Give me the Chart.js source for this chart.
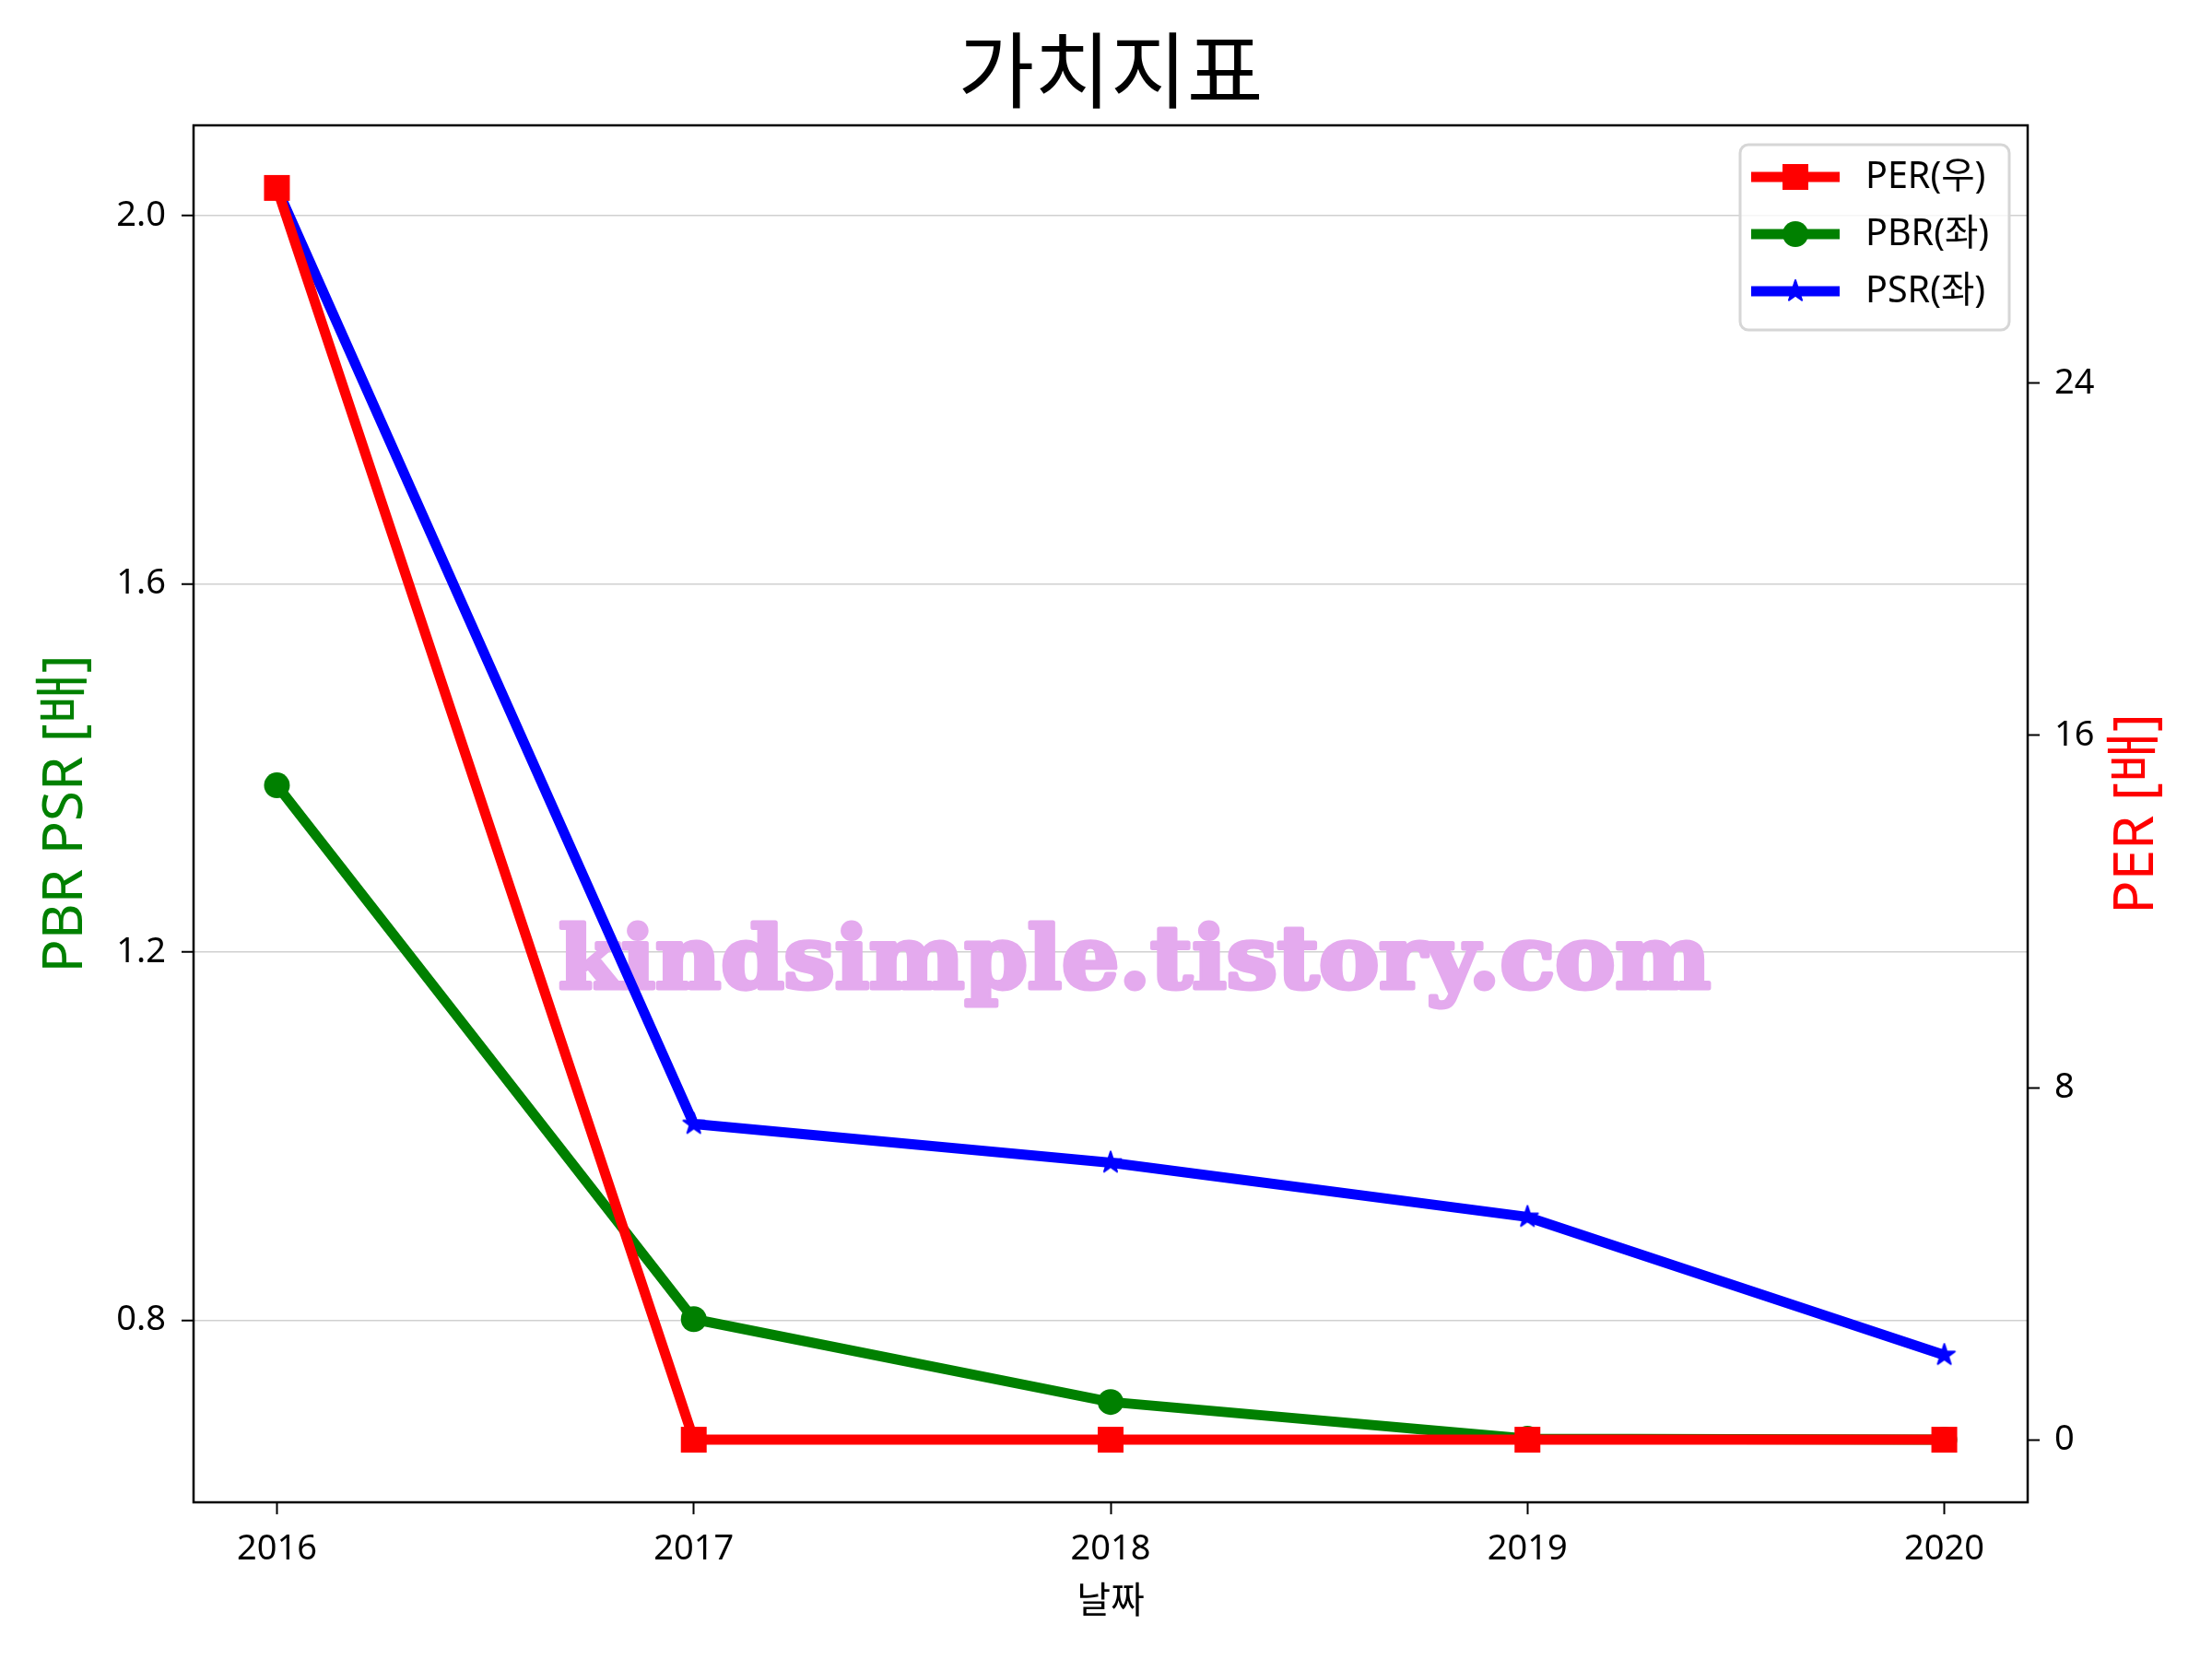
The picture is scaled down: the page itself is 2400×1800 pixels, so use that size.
<!DOCTYPE html>
<html><head><meta charset="utf-8">
<script src="https://cdn.jsdelivr.net/npm/chart.js@4.4.1/dist/chart.umd.min.js"></script>
<style>html,body{margin:0;padding:0;background:#fff;} canvas{display:block;}</style>
</head><body>
<canvas id="c" width="2400" height="1800" style="width:2400px;height:1800px"></canvas>
<script>
const years = [2016, 2017, 2018, 2019, 2020];
const perValues = [28.44, 0, 0, 0, 0];
const pbrValues = [1.381, 0.801, 0.711, 0.671, 0.670];
const psrValues = [2.030, 1.013, 0.971, 0.912, 0.762];
const leftTicks = [0.8, 1.2, 1.6, 2.0];
const rightTicks = [0, 8, 16, 24];
const seriesLabels = ['PER(우)', 'PBR(좌)', 'PSR(좌)'];
const titleText = '가치지표';
const xTitle = '날짜';
const leftTitle = 'PBR PSR [배]';
const rightTitle = 'PER [배]';
const watermark = 'kindsimple.tistory.com';

const FAMILY = "'Noto Sans', 'Noto Sans CJK KR', sans-serif";
Chart.defaults.font.family = FAMILY;
Chart.defaults.color = '#000';

function padRange(arrs){
  const all = [].concat(...arrs);
  const mn = Math.min(...all), mx = Math.max(...all);
  const m = (mx - mn) * 0.05;
  return [mn - m, mx + m];
}
const [lMin, lMax] = padRange([pbrValues, psrValues]);
const [rMin, rMax] = padRange([perValues]);
const [xMin, xMax] = padRange([years]);

function starPath(g, cx, cy, r){
  g.beginPath();
  for (let i = 0; i < 10; i++){
    const a = -Math.PI/2 + i*Math.PI/5;
    const rr = (i % 2) ? r*0.381 : r;
    const px = cx + rr*Math.cos(a), py = cy + rr*Math.sin(a);
    if (i === 0) g.moveTo(px, py); else g.lineTo(px, py);
  }
  g.closePath();
}
function makeStar(r, color){
  const s = Math.ceil(r*2 + 6);
  const c = document.createElement('canvas');
  c.width = s; c.height = s;
  const g = c.getContext('2d');
  starPath(g, s/2, s/2, r);
  g.fillStyle = color; g.fill();
  g.lineWidth = 2; g.strokeStyle = color; g.lineJoin = 'round'; g.stroke();
  return c;
}
const STAR_R = 12;
const starImg = makeStar(STAR_R, '#0000ff');

const colors = ['#ff0000', '#008000', '#0000ff'];
const pts = arr => years.map((x, i) => ({x: x, y: arr[i]}));

function drawMarker(g, kind, x, y, color){
  g.fillStyle = color;
  if (kind === 'rect'){ g.fillRect(x-14, y-14, 28, 28); }
  else if (kind === 'circle'){ g.beginPath(); g.arc(x, y, 14, 0, Math.PI*2); g.fill(); }
  else { g.drawImage(starImg, x - starImg.width/2, y - starImg.height/2); }
}

const decor = {
  id: 'decor',
  beforeDatasetsDraw(chart){
    const g = chart.ctx;
    g.save();
    g.font = "bold 94px 'DejaVu Serif'";
    const w = g.measureText(watermark).width;
    const target = 1250;
    g.translate(1231, 1072);
    g.scale(target / w, 1);
    g.fillStyle = '#e4aaee';
    g.strokeStyle = '#e4aaee';
    g.lineWidth = 5; g.lineJoin = 'round';
    g.textAlign = 'center';
    g.textBaseline = 'alphabetic';
    g.strokeText(watermark, 0, 0);
    g.fillText(watermark, 0, 0);
    g.restore();
  },
  afterDraw(chart){
    const g = chart.ctx, a = chart.chartArea;
    g.save();
    g.strokeStyle = '#000'; g.lineWidth = 2.5;
    g.strokeRect(a.left, a.top, a.right - a.left, a.bottom - a.top);
    const cx = (a.left + a.right) / 2, cy = (a.top + a.bottom) / 2;
    g.fillStyle = '#000';
    g.textAlign = 'center'; g.textBaseline = 'middle';
    g.font = "90px " + FAMILY;
    g.fillText(titleText, cx, 84);
    g.font = "40px " + FAMILY;
    g.fillText(xTitle, cx, 1739);
    g.save();
    g.translate(72, cy); g.rotate(-Math.PI/2);
    g.fillStyle = '#008000'; g.font = "60px " + FAMILY;
    g.fillText(leftTitle, 0, 0);
    g.restore();
    g.save();
    g.translate(2319, cy); g.rotate(-Math.PI/2);
    g.fillStyle = '#ff0000'; g.font = "60px " + FAMILY;
    g.fillText(rightTitle, 0, 0);
    g.restore();
    const lx = 1888, ly = 157, lw = 292, lh = 201, rad = 9;
    g.beginPath();
    g.roundRect(lx, ly, lw, lh, rad);
    g.fillStyle = 'rgba(255,255,255,0.8)'; g.fill();
    g.strokeStyle = '#d6d6d6'; g.lineWidth = 3; g.stroke();
    const kinds = ['rect', 'circle', 'star'];
    const rows = [192, 254, 316];
    for (let i = 0; i < 3; i++){
      const y = rows[i];
      g.strokeStyle = colors[i]; g.lineWidth = 11; g.lineCap = 'butt';
      g.beginPath(); g.moveTo(1900, y); g.lineTo(1996, y); g.stroke();
      drawMarker(g, kinds[i], 1948, y, colors[i]);
      g.fillStyle = '#000'; g.textAlign = 'left'; g.textBaseline = 'middle';
      g.font = "39.5px " + FAMILY;
      g.fillText(seriesLabels[i], 2024, y + 1);
    }
    g.restore();
  }
};

const common = {borderWidth: 11, fill: false, tension: 0, borderJoinStyle: 'round', borderCapStyle: 'butt', pointBorderWidth: 0, pointHoverRadius: 0};

new Chart(document.getElementById('c').getContext('2d'), {
  type: 'line',
  data: {datasets: [
    Object.assign({}, common, {label: seriesLabels[0], data: pts(perValues), yAxisID: 'yR', borderColor: colors[0], backgroundColor: colors[0], pointStyle: 'rect', pointRadius: 19.8}),
    Object.assign({}, common, {label: seriesLabels[1], data: pts(pbrValues), yAxisID: 'yL', borderColor: colors[1], backgroundColor: colors[1], pointStyle: 'circle', pointRadius: 14}),
    Object.assign({}, common, {label: seriesLabels[2], data: pts(psrValues), yAxisID: 'yL', borderColor: colors[2], backgroundColor: colors[2], pointStyle: starImg, pointRadius: STAR_R})
  ]},
  options: {
    responsive: false, animation: false, devicePixelRatio: 1,
    layout: {padding: {top: 136, left: 0, right: 0, bottom: 0}},
    plugins: {legend: {display: false}, tooltip: {enabled: false}, title: {display: false}},
    events: [],
    scales: {
      x: {
        type: 'linear', position: 'bottom', min: xMin, max: xMax,
        afterBuildTicks: s => { s.ticks = years.map(v => ({value: v})); },
        afterFit: s => { s.height = 170; s.paddingLeft = 0; s.paddingRight = 0; },
        grid: {drawOnChartArea: false, drawTicks: true, tickLength: 13, tickWidth: 2, tickColor: '#000'},
        border: {display: false},
        ticks: {color: '#000', font: {size: 38}, padding: 15, maxRotation: 0, autoSkip: false, callback: v => String(v)}
      },
      yL: {
        type: 'linear', position: 'left', min: lMin, max: lMax,
        afterBuildTicks: s => { s.ticks = leftTicks.map(v => ({value: v})); },
        afterFit: s => { s.width = 210; s.paddingTop = 0; s.paddingBottom = 0; },
        grid: {color: '#d0d0d0', lineWidth: 1.5, drawTicks: true, tickLength: 13, tickWidth: 2, tickColor: '#000'},
        border: {display: false},
        ticks: {color: '#000', font: {size: 38}, padding: 17, autoSkip: false, callback: v => Number(v).toFixed(1)}
      },
      yR: {
        type: 'linear', position: 'right', min: rMin, max: rMax,
        afterBuildTicks: s => { s.ticks = rightTicks.map(v => ({value: v})); },
        afterFit: s => { s.width = 200; s.paddingTop = 0; s.paddingBottom = 0; },
        grid: {drawOnChartArea: false, drawTicks: true, tickLength: 13, tickWidth: 2, tickColor: '#000'},
        border: {display: false},
        ticks: {color: '#000', font: {size: 38}, padding: 16, autoSkip: false, callback: v => String(Math.round(v))}
      }
    }
  },
  plugins: [decor]
});
</script>
</body></html>
